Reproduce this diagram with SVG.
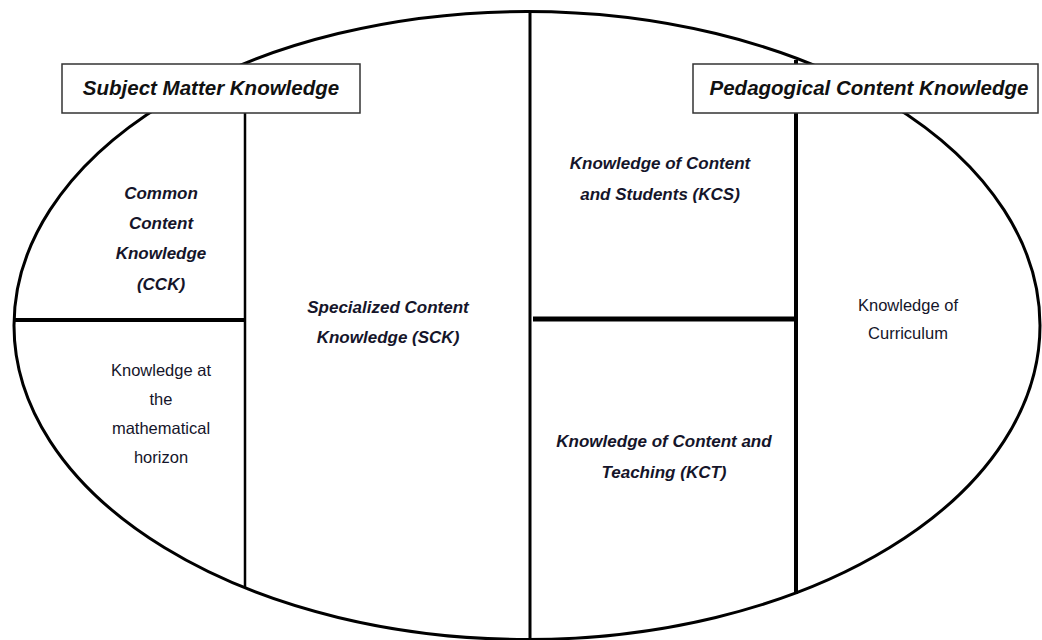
<svg xmlns="http://www.w3.org/2000/svg" width="1042" height="640" viewBox="0 0 1042 640">
<style>
.bi{font-family:"Liberation Sans",Arial,sans-serif;font-weight:bold;font-style:italic;font-size:17px;fill:#15152a;text-anchor:middle}
.rg{font-family:"Liberation Sans",Arial,sans-serif;font-size:16.5px;fill:#15152a;text-anchor:middle}
.hd{font-family:"Liberation Sans",Arial,sans-serif;font-weight:bold;font-style:italic;font-size:20.5px;fill:#111;text-anchor:middle}
.box{fill:#fff;stroke:#333;stroke-width:1.5}
.ln{stroke:#000;fill:none}
</style>
<rect width="1042" height="640" fill="#fff"/>
<g id="connectors">
<ellipse cx="527" cy="325.5" rx="513" ry="314" class="ln" stroke-width="3"/>
<line x1="530" y1="11" x2="530" y2="640" class="ln" stroke-width="3"/>
<line x1="245" y1="64" x2="245" y2="588" class="ln" stroke-width="2.5"/>
<line x1="796" y1="60" x2="796" y2="594" class="ln" stroke-width="4"/>
<line x1="14" y1="320" x2="245" y2="320" class="ln" stroke-width="4"/>
<line x1="533" y1="319" x2="796" y2="319" class="ln" stroke-width="5"/>
</g>
<g id="smk">
<rect x="62" y="64" width="298" height="49" class="box"/>
<text x="211" y="95" class="hd">Subject Matter Knowledge</text>
</g>
<g id="pck">
<rect x="693" y="64" width="345" height="49" class="box"/>
<text x="869" y="95" class="hd">Pedagogical Content Knowledge</text>
</g>
<g id="cck">
<text class="bi" x="161" y="199">Common</text>
<text class="bi" x="161" y="229">Content</text>
<text class="bi" x="161" y="259">Knowledge</text>
<text class="bi" x="161" y="290">(CCK)</text>
</g>
<g id="horizon">
<text class="rg" x="161" y="376">Knowledge at</text>
<text class="rg" x="161" y="405">the</text>
<text class="rg" x="161" y="434">mathematical</text>
<text class="rg" x="161" y="463">horizon</text>
</g>
<g id="sck">
<text class="bi" x="388" y="313">Specialized Content</text>
<text class="bi" x="388" y="343">Knowledge (SCK)</text>
</g>
<g id="kcs">
<text class="bi" x="660" y="169">Knowledge of Content</text>
<text class="bi" x="660" y="200">and Students (KCS)</text>
</g>
<g id="kct">
<text class="bi" x="664" y="447">Knowledge of Content and</text>
<text class="bi" x="664" y="478">Teaching (KCT)</text>
</g>
<g id="curriculum">
<text class="rg" x="908" y="311">Knowledge of</text>
<text class="rg" x="908" y="339">Curriculum</text>
</g>
</svg>
